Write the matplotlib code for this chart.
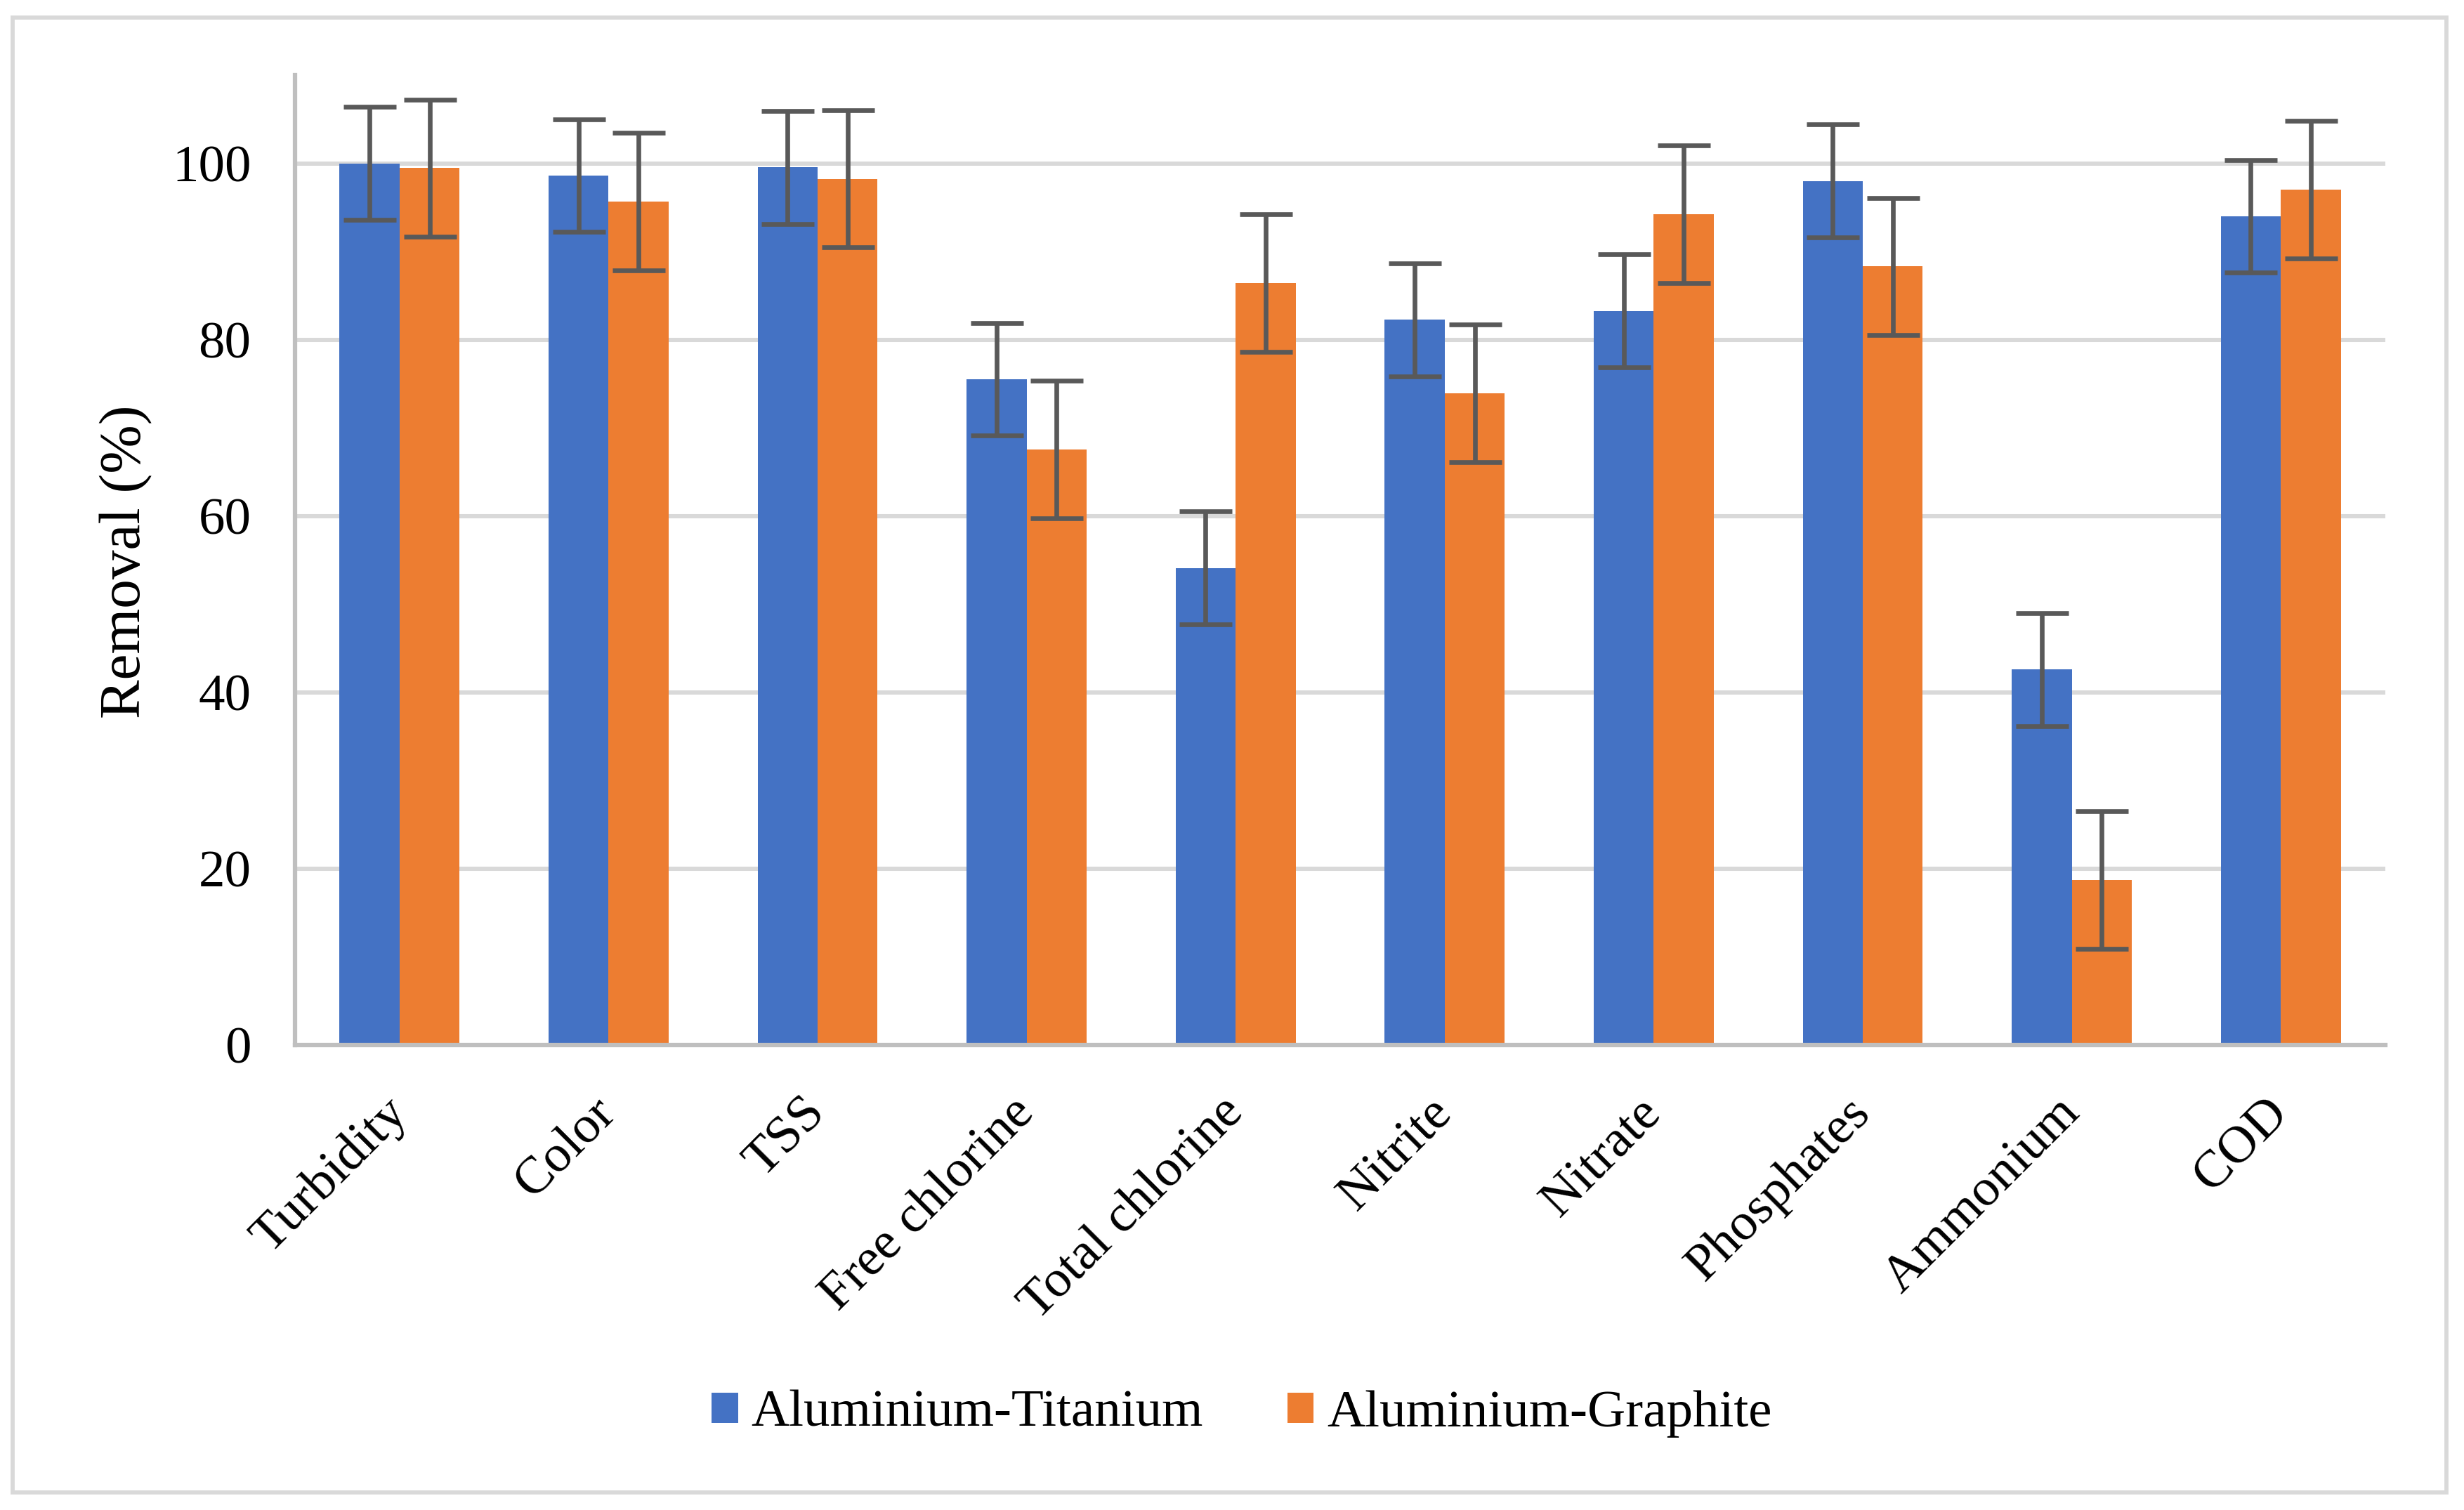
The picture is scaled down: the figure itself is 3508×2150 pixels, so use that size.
import matplotlib
matplotlib.use("Agg")
import matplotlib.pyplot as plt
import numpy as np
from matplotlib.patches import Rectangle
from matplotlib.transforms import ScaledTranslation

categories = ["Turbidity", "Color", "TSS", "Free chlorine", "Total chlorine",
              "Nitrite", "Nitrate", "Phosphates", "Ammonium", "COD"]
al_ti = [100.0, 98.6, 99.55, 75.5, 54.1, 82.25, 83.25, 98.0, 42.6, 94.0]
al_gr = [99.45, 95.65, 98.25, 67.55, 86.4, 73.95, 94.2, 88.3, 18.75, 97.05]
err_ti = [6.4] * 10
err_gr = [7.8] * 10
series_names = ["Aluminium-Titanium", "Aluminium-Graphite"]
yticks = [0, 20, 40, 60, 80, 100]

plt.rcParams['font.family'] = ['Liberation Serif', 'DejaVu Serif']

W, H = 3508, 2150
dpi = 300
fig = plt.figure(figsize=(W / dpi, H / dpi), dpi=dpi)
ax = fig.add_axes([420 / W, 1 - 1488 / H, (3396 - 420) / W, (1488 - 107) / H])

x = np.arange(len(categories))
bw = 0.287
blue = "#4472C4"
orange = "#ED7D31"
ecol = "#595959"
ekw = dict(ecolor=ecol, elinewidth=1.6, capsize=9, capthick=1.6)
ax.bar(x - bw / 2, al_ti, bw, color=blue, yerr=err_ti, error_kw=ekw,
       label=series_names[0], zorder=3)
ax.bar(x + bw / 2, al_gr, bw, color=orange, yerr=err_gr, error_kw=ekw,
       label=series_names[1], zorder=3)

ax.set_xlim(-0.5, len(categories) - 0.5)
ax.set_ylim(0, 110)
ax.set_yticks(yticks)
ax.set_yticklabels([str(t) for t in yticks], fontsize=18)
ax.yaxis.grid(True, color="#D9D9D9", linewidth=1.45, zorder=0)
ax.set_axisbelow(True)
ax.tick_params(axis='y', length=0, pad=15)
ax.tick_params(axis='x', length=0, pad=15)
ax.set_xticks(x)
ax.set_xticklabels(categories, fontsize=18, rotation=45, ha='right',
                   va='top', rotation_mode='anchor')
shift = ScaledTranslation(-23 / dpi, 0, fig.dpi_scale_trans)
for lab in ax.get_xticklabels():
    lab.set_transform(lab.get_transform() + shift)
for s in ['top', 'right']:
    ax.spines[s].set_visible(False)
for s in ['left', 'bottom']:
    ax.spines[s].set_color("#BFBFBF")
    ax.spines[s].set_linewidth(1.5)
    ax.spines[s].set_zorder(4)

fig.text(180 / W, 1 - 800 / H, "Removal (%)", rotation=90, fontsize=20,
         ha='center', va='center')

leg = fig.legend(loc='center', bbox_to_anchor=(0.504, 1 - 2013 / H), ncol=2,
                 frameon=False, fontsize=18, handlelength=0.5, handleheight=0.5,
                 handletextpad=0.25, columnspacing=1.6)

fig.patches.append(Rectangle((18 / W, 25 / H), (3483 - 18) / W, (2125 - 25) / H,
                             transform=fig.transFigure, fill=False,
                             edgecolor="#D9D9D9", linewidth=1.4))

fig.savefig("out.png", dpi=dpi, facecolor="white")
